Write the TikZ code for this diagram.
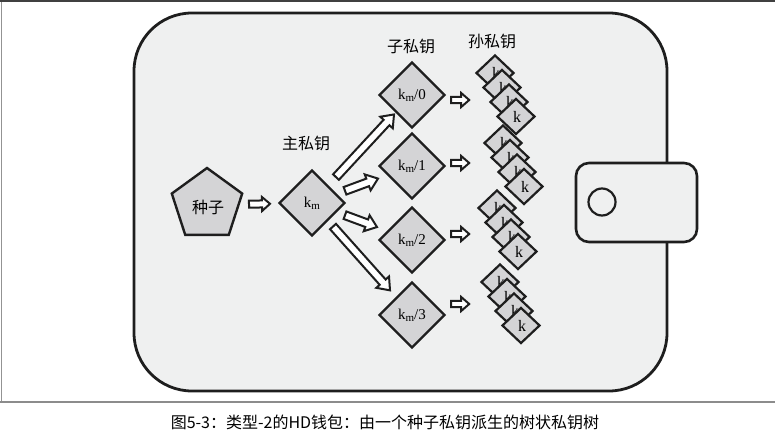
\documentclass[tikz,border=0pt]{standalone}
\usepackage{fontspec}
\setmainfont{Liberation Serif}
\newfontfamily\cjk{Noto Sans CJK SC}
\usetikzlibrary{calc, shapes.geometric}

\definecolor{walletfill}{HTML}{EFF0F0}
\definecolor{keyfill}{HTML}{D4D4D6}
\definecolor{ink}{HTML}{1E1E1E}

\tikzset{
  keynode/.style={diamond, draw=ink, line width=2.4pt, fill=keyfill, inner sep=0pt,
    minimum width=66pt, minimum height=66pt, font=\fontsize{15}{15}\selectfont},
  leafnode/.style={diamond, draw=ink, line width=2.2pt, fill=keyfill, inner sep=0pt,
    minimum width=38pt, minimum height=36pt, font=\fontsize{16}{16}\selectfont},
  hollow/.style={draw=ink, line width=2pt, fill=white, line join=miter},
  cjklabel/.style={font=\cjk\fontsize{16}{16}\selectfont},
}

\newcommand{\km}{k\raisebox{-0.3ex}{\fontsize{11}{11}\selectfont m}}
% hollow arrow: #1 tail, #2 tip, #3 half shaft, #4 half head, #5 head length
\newcommand{\hollowarrow}[5]{%
  \coordinate (hb) at ($(#2)!#5!(#1)$);
  \draw[hollow] ($(#1)!#3!90:(#2)$) -- ($(hb)!#3!-90:(#1)$) -- ($(hb)!#4!-90:(#1)$)
    -- (#2) -- ($(hb)!#4!90:(#1)$) -- ($(hb)!#3!90:(#1)$) -- ($(#1)!#3!-90:(#2)$) -- cycle;
}

\begin{document}
\begin{tikzpicture}[x=1pt, y=-1pt]
	\useasboundingbox (0,0) rectangle (775,441);

	% frame
	\draw [gray!85, line width=1.2pt] (1.5,0) -- (1.5,402);
	\draw [gray!90, line width=1.5pt] (0,402) -- (775,402);
	\draw [black!75, line width=2pt] (0,1) -- (775,1);

	% wallet
	\draw [ink, line width=2.8pt, fill=walletfill, rounded corners=58pt] (134,13) rectangle (667,391);
	\draw [ink, line width=2.6pt, fill=walletfill, rounded corners=13pt] (576,163) rectangle (697,242);
	\draw [ink, line width=2.2pt] (602,202) circle (13.5);

	% seed and master key
	\node [regular polygon, regular polygon sides=5, draw=ink, line width=2.4pt, fill=keyfill,
	       inner sep=0pt, minimum size=74pt, cjklabel] (seed) at (207,205) {};
	\node [cjklabel] (seedtext) at (208,207) {种子};
	\node [keynode] (km) at (312,203) {\km};

	% child keys
	\node [keynode] (k0) at (412,95) {\km/0};
	\node [keynode] (k1) at (412,166) {\km/1};
	\node [keynode] (k2) at (412,240) {\km/2};
	\node [keynode] (k3) at (412,315) {\km/3};

	% labels
	\node [cjklabel] (lmaster) at (306,143) {主私钥};
	\node [cjklabel] (lchild) at (411,46) {子私钥};
	\node [cjklabel] (lgrand) at (492,41) {孙私钥};

	% arrows
	\coordinate (s0) at ($(seed)!0.40!(km)$);
	\coordinate (s1) at ($(seed)!0.60!(km)$);
	\hollowarrow{s0}{s1}{3.5pt}{7pt}{8pt}

	\coordinate (a0) at ($(km)!0.24!(k0)$);
	\coordinate (b0) at ($(km)!0.82!(k0)$);
	\coordinate (a1) at ($(km)!0.33!(k1)$);
	\coordinate (b1) at ($(km)!0.66!(k1)$);
	\coordinate (a2) at ($(km)!0.33!(k2)$);
	\coordinate (b2) at ($(km)!0.65!(k2)$);
	\coordinate (a3) at ($(km)!0.21!(k3)$);
	\coordinate (b3) at ($(km)!0.78!(k3)$);
	\foreach \i in {0,...,3} {
		\hollowarrow{a\i}{b\i}{4pt}{8.5pt}{11pt}
	}

	% grandchild keys
	\foreach \i/\x/\y/\dy in {0/495/73/5, 1/503/143/-3, 2/497/208/-6, 3/500/282/-11} {
		\coordinate (c\i) at ($(k\i.east)+(5,\dy)$);
		\coordinate (d\i) at ($(k\i.east)+(23,\dy)$);
		\hollowarrow{c\i}{d\i}{3.2pt}{7pt}{8pt}
		\foreach \j in {0,...,3} {
			\node [leafnode] (g\i\j) at (\x+7*\j, \y+14.5*\j) {\raisebox{-2pt}{\hspace{2pt}k}};
		}
	}

	\node [font=\cjk\fontsize{16}{16}\selectfont] (caption) at (385,422) {图5-3：类型-2的HD钱包：由一个种子私钥派生的树状私钥树};
\end{tikzpicture}
\end{document}
